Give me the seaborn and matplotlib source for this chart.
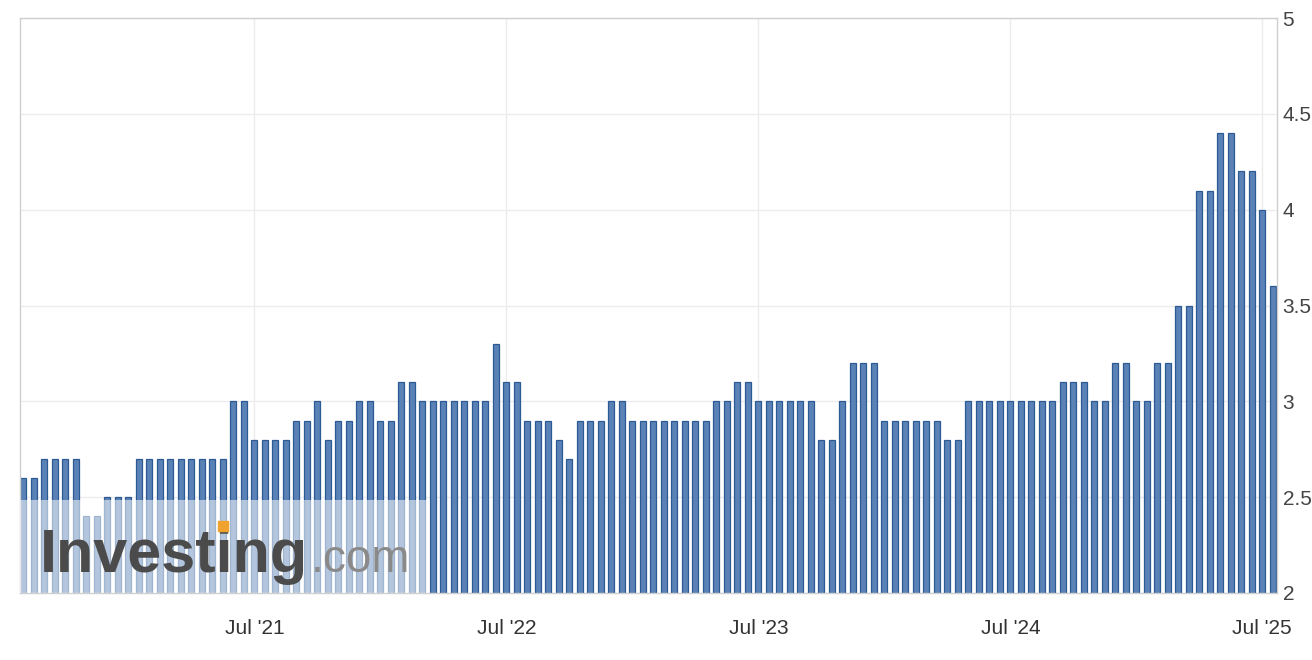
import pandas as pd
import matplotlib.pyplot as plt
import matplotlib.patches as mpatches
import seaborn as sns

# Two releases a month, Aug 2020 .. Jul 2025
dates = pd.date_range('2020-08-01', periods=120, freq='SMS')
values = [2.6, 2.6, 2.7, 2.7, 2.7, 2.7, 2.4, 2.4, 2.5, 2.5,
          2.5, 2.7, 2.7, 2.7, 2.7, 2.7, 2.7, 2.7, 2.7, 2.7,
          3.0, 3.0, 2.8, 2.8, 2.8, 2.8, 2.9, 2.9, 3.0, 2.8,
          2.9, 2.9, 3.0, 3.0, 2.9, 2.9, 3.1, 3.1, 3.0, 3.0,
          3.0, 3.0, 3.0, 3.0, 3.0, 3.3, 3.1, 3.1, 2.9, 2.9,
          2.9, 2.8, 2.7, 2.9, 2.9, 2.9, 3.0, 3.0, 2.9, 2.9,
          2.9, 2.9, 2.9, 2.9, 2.9, 2.9, 3.0, 3.0, 3.1, 3.1,
          3.0, 3.0, 3.0, 3.0, 3.0, 3.0, 2.8, 2.8, 3.0, 3.2,
          3.2, 3.2, 2.9, 2.9, 2.9, 2.9, 2.9, 2.9, 2.8, 2.8,
          3.0, 3.0, 3.0, 3.0, 3.0, 3.0, 3.0, 3.0, 3.0, 3.1,
          3.1, 3.1, 3.0, 3.0, 3.2, 3.2, 3.0, 3.0, 3.2, 3.2,
          3.5, 3.5, 4.1, 4.1, 4.4, 4.4, 4.2, 4.2, 4.0, 3.6]
tick_labels = ["Jul '21", "Jul '22", "Jul '23", "Jul '24", "Jul '25"]
y_ticks = [2, 2.5, 3, 3.5, 4, 4.5, 5]
y_tick_labels = ['2', '2.5', '3', '3.5', '4', '4.5', '5']

df = pd.DataFrame({'date': dates, 'value': values})
df['pos'] = range(len(df))

sns.set_theme(style='white')
plt.rcParams['font.family'] = ['Liberation Sans', 'DejaVu Sans']

fig = plt.figure(figsize=(13.12, 6.6), dpi=100)
ax = fig.add_axes([20 / 1312, 67 / 660, 1257 / 1312, 575 / 660])

sns.barplot(data=df, x='pos', y='value', color='#5a82b6', width=0.55,
            edgecolor='#2c5a94', linewidth=0.9, saturation=1, ax=ax)

# x ticks at the July releases
jul_dates = pd.to_datetime(['20%s-07-01' % lab[-2:] for lab in tick_labels])
tick_pos = df.loc[df['date'].isin(jul_dates), 'pos'].tolist()
ax.set_xticks(tick_pos)
ax.set_xticklabels(tick_labels)
ax.set_xlim(-0.32, 119.4)
ax.set_xlabel('')

ax.set_ylim(2, 5)
ax.yaxis.tick_right()
ax.set_yticks(y_ticks)
ax.set_yticklabels(y_tick_labels)
ax.set_ylabel('')

ax.tick_params(axis='x', length=0, pad=19, labelsize=15, labelcolor='#333333')
ax.tick_params(axis='y', length=0, pad=4, labelsize=15, labelcolor='#444444')
ax.grid(True, color='#ececec', linewidth=1)
ax.set_axisbelow(True)
for side in ['left', 'right', 'top', 'bottom']:
    ax.spines[side].set_color('#cfcfcf')
    ax.spines[side].set_linewidth(1)

# watermark
ax.add_patch(mpatches.Rectangle((0, 0), 410 / 1257, 93 / 575, transform=ax.transAxes,
                                facecolor='white', alpha=0.55, edgecolor='none', zorder=5))
ax.text(0.016, 0.037, 'Investing', transform=ax.transAxes, fontsize=44,
        fontweight='bold', color='#4b4b4b', va='baseline', zorder=6)
ax.text(0.231, 0.037, '.com', transform=ax.transAxes, fontsize=33,
        color='#8a8a8a', va='baseline', zorder=6)
ax.plot([0.1612], [0.1160], transform=ax.transAxes, marker='s', markersize=6.5,
        color='#f0a22e', zorder=7, clip_on=False)

plt.savefig('out.png', dpi=100)
